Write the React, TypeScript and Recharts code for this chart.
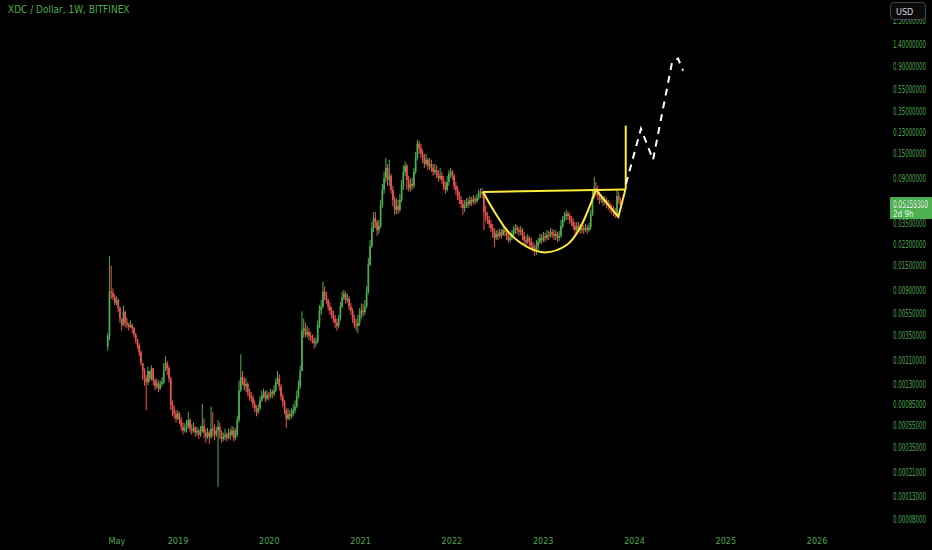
import { Bar, ComposedChart, Line, ReferenceLine, XAxis, YAxis } from 'recharts'

// Weekly XDC/USD candles (Bitfinex), first week starts 2018-03-26
const FIRST_OPEN = 0.0028
const START = Date.UTC(2018, 2, 26)
const WEEK = 7 * 24 * 3600 * 1000

const closes = [
  0.0035, 0.0087, 0.0085, 0.0078, 0.0069, 0.0073, 0.0062, 0.005, 0.0044, 0.0057,
  0.0046, 0.0044, 0.0042, 0.0044, 0.0041, 0.0036, 0.0032, 0.0029, 0.0025, 0.002,
  0.0017, 0.00146, 0.00135, 0.0017, 0.00146, 0.0018, 0.0014, 0.00124, 0.00132, 0.00118,
  0.0013, 0.00135, 0.0017, 0.002, 0.0018, 0.00146, 0.00084, 0.00076, 0.0007, 0.00064,
  0.00071, 0.00062, 0.00054, 0.0005, 0.00052, 0.00055, 0.00062, 0.00052, 0.0005, 0.00053,
  0.00048, 0.0005, 0.00046, 0.00049, 0.00055, 0.00048, 0.00044, 0.00048, 0.00044, 0.00052,
  0.0005, 0.00046, 0.0005, 0.00054, 0.00048, 0.00042, 0.00044, 0.00046, 0.00043, 0.00048,
  0.00046, 0.0005, 0.00043, 0.00046, 0.00062, 0.00114, 0.0015, 0.0014, 0.00124, 0.0013,
  0.0011, 0.00101, 0.00097, 0.00086, 0.00079, 0.00073, 0.00079, 0.00093, 0.00103, 0.0011,
  0.00097, 0.00103, 0.00101, 0.0011, 0.00106, 0.00114, 0.00135, 0.00146, 0.00124, 0.00101,
  0.0009, 0.00076, 0.00064, 0.0007, 0.00067, 0.00071, 0.00076, 0.00082, 0.00101, 0.00124,
  0.0017, 0.0039, 0.0041, 0.0036, 0.0038, 0.0035, 0.0034, 0.0032, 0.003, 0.0031,
  0.0044, 0.0059, 0.0064, 0.0087, 0.0079, 0.0073, 0.0064, 0.0059, 0.0054, 0.005,
  0.0046, 0.0043, 0.005, 0.0064, 0.0077, 0.0083, 0.0073, 0.0075, 0.0064, 0.0059,
  0.005, 0.0044, 0.0043, 0.0046, 0.0054, 0.0059, 0.0057, 0.0064, 0.0087, 0.0152,
  0.0222, 0.0321, 0.0395, 0.0365, 0.0309, 0.0335, 0.0517, 0.0705, 0.09, 0.111,
  0.0866, 0.094, 0.0705, 0.0573, 0.0467, 0.0506, 0.0467, 0.0573, 0.0765, 0.102,
  0.116, 0.0866, 0.073, 0.0795, 0.0765, 0.102, 0.136, 0.182, 0.166, 0.148,
  0.136, 0.12, 0.131, 0.116, 0.12, 0.111, 0.102, 0.106, 0.098, 0.09,
  0.094, 0.0866, 0.0765, 0.0705, 0.083, 0.098, 0.102, 0.094, 0.0765, 0.0705,
  0.062, 0.0573, 0.0527, 0.0485, 0.0506, 0.055, 0.0527, 0.0573, 0.055, 0.0585,
  0.056, 0.0597, 0.065, 0.068, 0.065, 0.0446, 0.0412, 0.038, 0.035, 0.0321,
  0.0297, 0.0263, 0.0285, 0.0273, 0.0297, 0.0279, 0.0309, 0.0297, 0.0273, 0.0251,
  0.0263, 0.0285, 0.0309, 0.0321, 0.0309, 0.0297, 0.0309, 0.0273, 0.0251, 0.0242,
  0.0263, 0.0242, 0.0222, 0.0213, 0.0205, 0.0222, 0.0242, 0.0263, 0.0251, 0.0273,
  0.0263, 0.0279, 0.0273, 0.0297, 0.0285, 0.0273, 0.0285, 0.0263, 0.0273, 0.0335,
  0.038, 0.0412, 0.043, 0.0412, 0.038, 0.0365, 0.0335, 0.0309, 0.0335, 0.0321,
  0.0309, 0.0321, 0.0309, 0.0321, 0.0309, 0.0328, 0.043, 0.062, 0.073, 0.0705,
  0.062, 0.0573, 0.0597, 0.055, 0.0573, 0.0527, 0.0506, 0.0485, 0.0467, 0.0446,
  0.0421, 0.062, 0.0573, 0.051593,
]

const highs = [
  0.0037, 0.018, 0.0148, 0.0093, 0.0082, 0.0079, 0.0075, 0.0064, 0.005, 0.0065,
  0.0059, 0.0051, 0.0046, 0.0048, 0.0045, 0.0042, 0.0037, 0.0033, 0.003, 0.0026,
  0.002, 0.0018, 0.00156, 0.00185, 0.0017, 0.0019, 0.0018, 0.00146, 0.00146, 0.0014,
  0.0014, 0.0015, 0.002, 0.0023, 0.0021, 0.0019, 0.0015, 0.00093, 0.00084, 0.00076,
  0.00076, 0.00073, 0.00066, 0.00059, 0.00058, 0.00062, 0.00073, 0.00064, 0.00057, 0.00059,
  0.00055, 0.00054, 0.00052, 0.00055, 0.00087, 0.00064, 0.00052, 0.00053, 0.0005, 0.00082,
  0.00073, 0.00057, 0.00054, 0.00062, 0.00059, 0.0005, 0.00048, 0.00052, 0.00048, 0.00052,
  0.00052, 0.00055, 0.00054, 0.00052, 0.00068, 0.0014, 0.0024, 0.0017, 0.0015, 0.00146,
  0.00135, 0.00118, 0.0011, 0.00103, 0.00093, 0.00084, 0.00086, 0.00101, 0.00114, 0.00118,
  0.00114, 0.00114, 0.0011, 0.00118, 0.00116, 0.00127, 0.00146, 0.0017, 0.0016, 0.0013,
  0.00106, 0.00093, 0.00079, 0.00079, 0.00076, 0.00079, 0.00086, 0.00093, 0.00114, 0.0014,
  0.0019, 0.0058, 0.005, 0.0046, 0.0043, 0.0041, 0.0038, 0.0036, 0.0034, 0.0034,
  0.0048, 0.0066, 0.0073, 0.0107, 0.0097, 0.0087, 0.0075, 0.007, 0.0064, 0.0059,
  0.0054, 0.005, 0.0054, 0.007, 0.0087, 0.009, 0.0087, 0.0083, 0.0079, 0.0069,
  0.0062, 0.0054, 0.005, 0.0054, 0.0062, 0.0068, 0.0068, 0.0073, 0.0097, 0.0174,
  0.0251, 0.0365, 0.0446, 0.0446, 0.038, 0.038, 0.0573, 0.0795, 0.102, 0.136,
  0.12, 0.131, 0.098, 0.0765, 0.062, 0.0597, 0.0573, 0.065, 0.0866, 0.116,
  0.126, 0.12, 0.094, 0.09, 0.09, 0.111, 0.154, 0.1975, 0.193, 0.182,
  0.161, 0.148, 0.148, 0.136, 0.136, 0.131, 0.12, 0.12, 0.116, 0.106,
  0.111, 0.102, 0.094, 0.083, 0.094, 0.106, 0.111, 0.106, 0.098, 0.083,
  0.0765, 0.068, 0.062, 0.0573, 0.0573, 0.0597, 0.0597, 0.062, 0.061, 0.0636,
  0.062, 0.065, 0.0705, 0.073, 0.073, 0.068, 0.0506, 0.0446, 0.0412, 0.038,
  0.035, 0.0321, 0.0309, 0.0309, 0.0321, 0.0315, 0.0335, 0.0328, 0.0321, 0.0297,
  0.0285, 0.0309, 0.0335, 0.035, 0.0342, 0.0328, 0.0335, 0.0321, 0.0297, 0.0273,
  0.0285, 0.0273, 0.0263, 0.0242, 0.0232, 0.0251, 0.0263, 0.0285, 0.0285, 0.0297,
  0.0291, 0.0309, 0.0303, 0.0321, 0.0315, 0.0309, 0.0309, 0.0297, 0.0303, 0.038,
  0.0412, 0.0446, 0.0467, 0.0456, 0.0438, 0.0412, 0.0395, 0.0365, 0.0365, 0.0365,
  0.035, 0.035, 0.0342, 0.035, 0.0342, 0.0357, 0.0467, 0.0705, 0.0925, 0.083,
  0.0765, 0.068, 0.065, 0.062, 0.062, 0.0597, 0.0573, 0.055, 0.0527, 0.0506,
  0.0485, 0.0705, 0.068, 0.0597,
]

const lows = [
  0.0026, 0.0032, 0.0075, 0.0073, 0.0066, 0.0066, 0.0057, 0.0046, 0.0039, 0.0043,
  0.0042, 0.0041, 0.0039, 0.0041, 0.0037, 0.0034, 0.003, 0.0027, 0.0023, 0.0019,
  0.0014, 0.00125, 0.00076, 0.00127, 0.00135, 0.0014, 0.00127, 0.00114, 0.00118, 0.0011,
  0.00116, 0.00124, 0.0013, 0.0017, 0.00156, 0.00135, 0.00076, 0.00067, 0.00064, 0.00059,
  0.00062, 0.00057, 0.0005, 0.00046, 0.00048, 0.00048, 0.00052, 0.00048, 0.00046, 0.00048,
  0.00044, 0.00045, 0.00042, 0.00044, 0.00048, 0.00043, 0.00039, 0.00042, 0.00038, 0.00042,
  0.00044, 0.00041, 0.00044, 0.000157, 0.00042, 0.00039, 0.0004, 0.00041, 0.0004, 0.00042,
  0.00041, 0.00044, 0.0004, 0.00041, 0.00044, 0.00059, 0.0011, 0.00127, 0.00114, 0.0011,
  0.00101, 0.00093, 0.0009, 0.00079, 0.00073, 0.00067, 0.0007, 0.00076, 0.0009, 0.00097,
  0.0009, 0.00093, 0.00093, 0.00097, 0.00097, 0.00101, 0.0011, 0.0013, 0.00114, 0.00093,
  0.00082, 0.0007, 0.00053, 0.00062, 0.00062, 0.00064, 0.00067, 0.00071, 0.00079, 0.00097,
  0.00118, 0.0017, 0.0034, 0.0034, 0.0034, 0.0032, 0.0031, 0.003, 0.0027, 0.0028,
  0.003, 0.0041, 0.0054, 0.0062, 0.0073, 0.0068, 0.0059, 0.0054, 0.005, 0.0046,
  0.0041, 0.0039, 0.0041, 0.0048, 0.0062, 0.0073, 0.0068, 0.0069, 0.0059, 0.0054,
  0.0046, 0.0041, 0.0039, 0.0037, 0.0043, 0.005, 0.0052, 0.0054, 0.0062, 0.0083,
  0.0147, 0.0213, 0.0297, 0.0321, 0.0273, 0.0285, 0.0321, 0.0485, 0.065, 0.083,
  0.0765, 0.0765, 0.065, 0.0506, 0.0421, 0.043, 0.043, 0.0446, 0.055, 0.0705,
  0.094, 0.0705, 0.068, 0.068, 0.0705, 0.073, 0.098, 0.131, 0.148, 0.136,
  0.123, 0.111, 0.116, 0.106, 0.106, 0.102, 0.094, 0.096, 0.09, 0.083,
  0.0866, 0.0795, 0.0705, 0.065, 0.068, 0.0765, 0.09, 0.0866, 0.0705, 0.0636,
  0.0573, 0.0527, 0.0485, 0.0421, 0.0446, 0.0485, 0.0485, 0.0506, 0.0506, 0.0527,
  0.0517, 0.054, 0.0573, 0.0597, 0.0597, 0.0309, 0.0365, 0.035, 0.0321, 0.0297,
  0.0263, 0.0218, 0.0251, 0.0251, 0.0263, 0.0257, 0.0273, 0.0273, 0.0251, 0.0236,
  0.0242, 0.0251, 0.0273, 0.0285, 0.0285, 0.0273, 0.0279, 0.0251, 0.0232, 0.0222,
  0.0232, 0.0222, 0.0205, 0.0197, 0.0181, 0.0185, 0.0205, 0.0232, 0.0232, 0.0242,
  0.0242, 0.0251, 0.0251, 0.0263, 0.0263, 0.0251, 0.0251, 0.0242, 0.0246, 0.0263,
  0.0321, 0.0365, 0.038, 0.038, 0.035, 0.0335, 0.0309, 0.0285, 0.0297, 0.0297,
  0.0285, 0.0291, 0.0285, 0.0297, 0.0285, 0.0297, 0.0309, 0.0412, 0.0597, 0.062,
  0.0573, 0.0527, 0.054, 0.0506, 0.0517, 0.0485, 0.0467, 0.0446, 0.043, 0.0412,
  0.0395, 0.0404, 0.0527, 0.0485,
]

// drawings (decimal year, price)
const rimLine = [
  { t: 2022.341, p: 0.0676 },
  { t: 2023.9, p: 0.0712 },
]
const cupCurve = [
  { t: 2022.341, p: 0.0676 },
  { t: 2022.454, p: 0.0467 },
  { t: 2022.6, p: 0.0309 },
  { t: 2022.819, p: 0.0219 },
  { t: 2023.02, p: 0.0195 },
  { t: 2023.257, p: 0.0227 },
  { t: 2023.403, p: 0.0322 },
  { t: 2023.578, p: 0.0705 },
]
const handleLine = [
  { t: 2023.578, p: 0.0705 },
  { t: 2023.823, p: 0.0404 },
  { t: 2023.9, p: 0.0712 },
]
const breakoutLine = [
  { t: 2023.904, p: 0.0712 },
  { t: 2023.904, p: 0.264 },
]
const projection = [
  { t: 2023.907, p: 0.08 },
  { t: 2024.071, p: 0.248 },
  { t: 2024.203, p: 0.1306 },
  { t: 2024.411, p: 0.966 },
  { t: 2024.477, p: 1.049 },
  { t: 2024.532, p: 0.819 },
]

const Y_TICKS = [
  2.3, 1.4, 0.9, 0.55, 0.35, 0.23, 0.15, 0.09, 0.055, 0.035, 0.023, 0.015, 0.009, 0.0055,
  0.0035, 0.0021, 0.0013, 0.00085, 0.00055, 0.00035, 0.00021, 0.00013, 0.00008,
]
const X_TICKS = [2018.33, 2019, 2020, 2021, 2022, 2023, 2024, 2025, 2026]

const LAST_CLOSE = closes[closes.length - 1]
const UP = '#4caf50'
const DOWN = '#ef5350'
const TEXT = '#4fa64f'
const FONT = '"Liberation Sans Narrow", "DejaVu Sans Condensed", "Roboto", sans-serif'

function toYear(ms: number) {
  const y = new Date(ms).getUTCFullYear()
  const a = Date.UTC(y, 0, 1)
  const b = Date.UTC(y + 1, 0, 1)
  return y + (ms - a) / (b - a)
}

const candles = closes.map((c, i) => ({
  t: toYear(START + i * WEEK),
  open: i === 0 ? FIRST_OPEN : closes[i - 1],
  close: c,
  high: highs[i],
  low: lows[i],
}))

function Candle(props: any) {
  const { x, y, width, height, payload } = props
  if (!payload || !isFinite(y) || !isFinite(height)) return null
  const { open, close, high, low } = payload
  const cx = x + width / 2
  const lh = Math.log(high)
  const span = lh - Math.log(low) || 1
  const yOf = (v: number) => y + ((lh - Math.log(v)) / span) * height
  const top = yOf(Math.max(open, close))
  const bot = yOf(Math.min(open, close))
  const color = close >= open ? UP : DOWN
  return (
    <g>
      <line x1={cx} x2={cx} y1={y} y2={y + height} stroke={color} strokeWidth={1} />
      <rect x={cx - 0.85} y={top} width={1.7} height={Math.max(bot - top, 1)} fill={color} />
    </g>
  )
}

// price-scale label squeezed to the narrow TradingView width
function PriceTick(props: any) {
  const { x, y, payload } = props
  return (
    <text
      x={x}
      y={y}
      dy='0.355em'
      fill={TEXT}
      fontSize={10}
      fontFamily={FONT}
      textLength={33}
      lengthAdjust='spacingAndGlyphs'
    >
      {Number(payload.value).toFixed(8)}
    </text>
  )
}

function PriceTag(props: any) {
  const vb = props.viewBox
  if (!vb) return null
  const left = vb.x + vb.width + 30
  return (
    <g>
      <rect x={left} y={vb.y - 8} width={42} height={22} fill={UP} rx={1} />
      <text
        x={left + 3}
        y={vb.y + 3}
        fill='#fff'
        fontSize={10}
        fontFamily={FONT}
        textLength={35}
        lengthAdjust='spacingAndGlyphs'
      >
        {LAST_CLOSE.toFixed(8)}
      </text>
      <text x={left + 3} y={vb.y + 12} fill='#e8f5e9' fontSize={8} fontFamily={FONT}>
        2d 9h
      </text>
    </g>
  )
}

export default function App() {
  return (
    <div style={{ position: 'relative', width: 932, height: 550, background: '#000' }}>
      <style>{'body{margin:0;background:#000}'}</style>
      <ComposedChart
        width={932}
        height={550}
        data={candles}
        margin={{ top: 0, right: 0, bottom: 0, left: 0 }}
      >
        <XAxis
          dataKey='t'
          type='number'
          domain={[2017.0504, 2026.4699]}
          allowDataOverflow
          ticks={X_TICKS}
          interval={0}
          tickFormatter={(v: number) => (v < 2019 ? 'May' : String(v))}
          tick={{ fill: TEXT, fontSize: 9, fontFamily: FONT }}
          axisLine={false}
          tickLine={false}
          height={20}
        />
        <YAxis
          orientation='right'
          scale='log'
          domain={[0.00006476, 3.494]}
          allowDataOverflow
          ticks={Y_TICKS}
          interval={0}
          tick={<PriceTick />}
          axisLine={false}
          tickLine={false}
          tickMargin={27}
          width={72}
        />
        <Bar
          dataKey={(d: any) => [d.low, d.high]}
          barSize={2}
          shape={<Candle />}
          isAnimationActive={false}
        />
        <Line data={rimLine} dataKey='p' type='linear' stroke='#ffeb3b' strokeWidth={2} dot={false} activeDot={false} isAnimationActive={false} />
        <Line data={cupCurve} dataKey='p' type='monotone' stroke='#ffeb3b' strokeWidth={2} dot={false} activeDot={false} isAnimationActive={false} />
        <Line data={handleLine} dataKey='p' type='linear' stroke='#ffeb3b' strokeWidth={2} dot={false} activeDot={false} isAnimationActive={false} />
        <Line data={breakoutLine} dataKey='p' type='linear' stroke='#ffeb3b' strokeWidth={2} dot={false} activeDot={false} isAnimationActive={false} />
        <Line data={projection} dataKey='p' type='linear' stroke='#ffffff' strokeWidth={2} strokeDasharray='7 6' dot={false} activeDot={false} isAnimationActive={false} />
        <ReferenceLine y={LAST_CLOSE} stroke='none' label={<PriceTag />} />
      </ComposedChart>
      <div
        style={{
          position: 'absolute',
          left: 8,
          top: 4,
          color: UP,
          fontSize: 10,
          fontFamily: FONT,
        }}
      >
        XDC / Dollar, 1W, BITFINEX
      </div>
      <div
        style={{
          position: 'absolute',
          left: 890,
          top: 2,
          width: 36,
          height: 18,
          border: '1px solid #434651',
          borderRadius: 4,
          background: '#0b0b0b',
          color: '#d1d4dc',
          fontSize: 9,
          fontFamily: FONT,
          lineHeight: '18px',
          paddingLeft: 5,
          boxSizing: 'border-box',
        }}
      >
        USD
      </div>
    </div>
  )
}
